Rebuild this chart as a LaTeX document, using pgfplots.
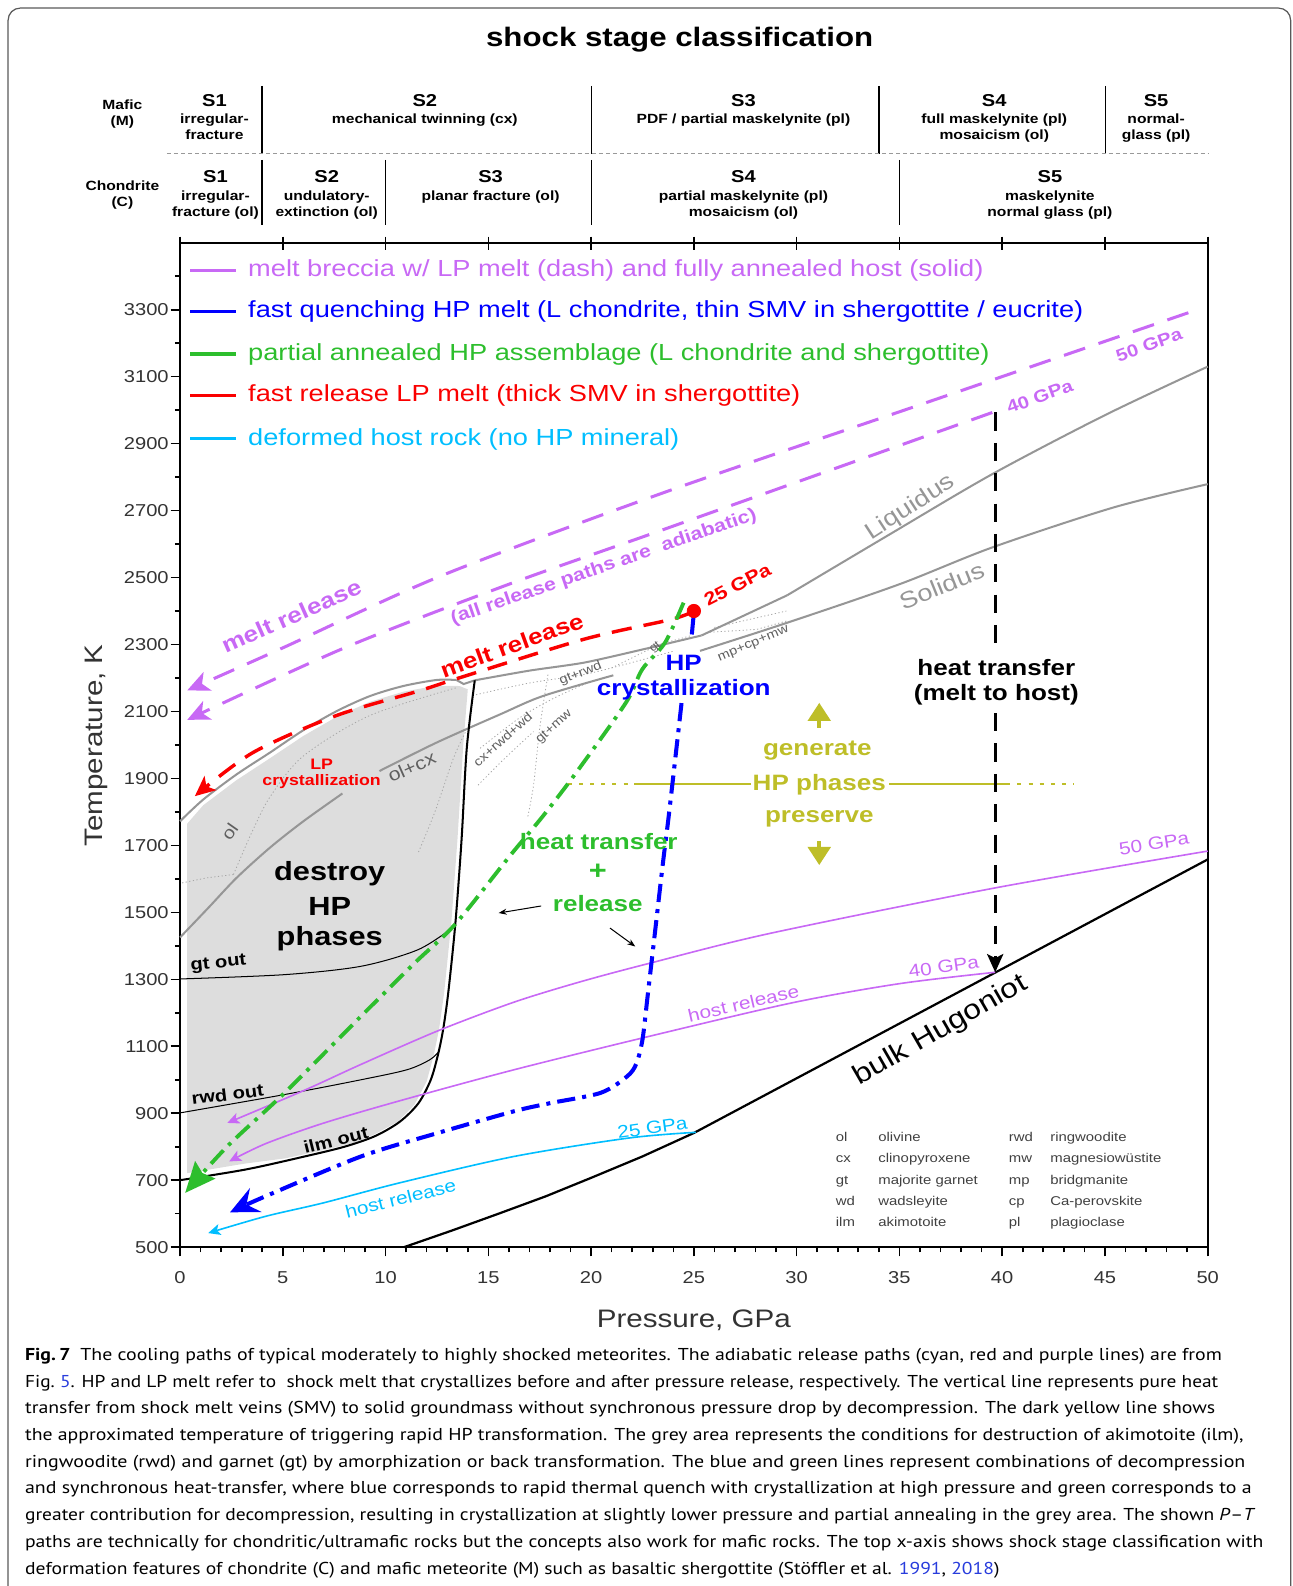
\documentclass[border=0pt]{standalone}
\usepackage{pgfplots}
\pgfplotsset{compat=1.18}
\usetikzlibrary{arrows.meta}
\usepackage{fontspec}
\setmainfont{Liberation Sans}
\newfontfamily\cf[FakeStretch=1.17]{Liberation Sans}
\newfontfamily\capff{PT Sans}

\definecolor{mpurple}{RGB}{200,105,245}
\definecolor{mblue}{RGB}{0,0,255}
\definecolor{mgreen}{RGB}{45,190,45}
\definecolor{mred}{RGB}{250,0,0}
\definecolor{mcyan}{RGB}{0,190,255}
\definecolor{molive}{RGB}{190,190,40}
\definecolor{lgrey}{RGB}{150,150,150}
\definecolor{fgrey}{RGB}{221,221,221}
\definecolor{tgrey}{RGB}{95,95,95}
\definecolor{linkblue}{RGB}{40,60,220}

\newcommand\fs[1]{\fontsize{#1}{#1}\selectfont}
\newcommand\capfont{\capff\fs{8.5}}

\tikzset{
  px/.style={x=0.5pt,y=-0.5pt,shift={(-89pt,616.5pt)}},
  phase/.style={lgrey, line width=1pt},
  dots/.style={lgrey!85, line width=0.4pt, dash pattern=on 0.6pt off 1.2pt},
  relarrow/.style={-{Stealth[length=11pt,width=10pt,inset=3pt]}},
  hostarrow/.style={-{Stealth[length=6pt,width=5.5pt,inset=1.5pt]}},
}

\begin{document}%
\begin{tikzpicture}
\useasboundingbox (-89pt,-167.5pt) rectangle (550pt,616.5pt);
\clip (-89pt,-167.5pt) rectangle (550pt,616.5pt);

\begin{axis}[
  scale only axis, width=508pt, height=496.5pt,
  xmin=0, xmax=50, ymin=500, ymax=3500,
  clip=false,
  axis line style={line width=1.1pt},
  tick pos=left, tick align=outside,
  xtick={0,5,...,50}, minor x tick num=4,
  ytick={500,700,...,3300}, minor ytick={600,800,...,3400},
  major tick length=4.6pt, minor tick length=2.6pt,
  tick style={black, line width=0.8pt},
  ticklabel style={font=\cf\fs{8.5}, text=black!80},
  /pgf/number format/assume math mode=true,
  /pgf/number format/1000 sep={},
  xticklabel style={yshift=-4pt},
  yticklabel style={xshift=2.5pt},
]

% region where HP phases are destroyed
\addplot[draw=none, fill=fgrey] coordinates {
  (0.35,721) (3.2,750) (5.1,765) (7,790) (8.5,812) (9.5,838) (10.6,875)
  (11.4,925) (12.0,995) (12.35,1075) (12.6,1150) (12.85,1260) (13.2,1470)
  (13.5,1720) (13.78,2000) (14.0,2166) (13.6,2176) (12.48,2177) (10.86,2159)
  (9.24,2129) (7.62,2084) (6.0,2027) (4.37,1960) (2.75,1895) (1.13,1820) (0.35,1765)} -- cycle;

% faint phase-field boundaries
\addplot[dots] coordinates {(0.1,1588) (1.3,1603) (2.6,1613)};
\addplot[dots, smooth] coordinates {(2.6,1613) (3.5,1740) (4.4,1847) (6,1967) (9.2,2087) (13.45,2171)};
\addplot[dots, smooth] coordinates {(11.6,1680) (12.4,1800) (13.3,1960) (13.9,2040)};
\addplot[dots, smooth] coordinates {(14.4,2150) (17,2185) (20,2215) (24,2280)};
\addplot[dots, smooth] coordinates {(14.6,1990) (16.5,2080) (18.2,2140) (20,2190)};
\addplot[dots, smooth] coordinates {(17.9,2210) (17.5,2050) (17.2,1880) (16.9,1780)};
\addplot[dots, smooth] coordinates {(14.5,1880) (15.8,1960) (17.2,2040)};
\addplot[dots] coordinates {(25.6,2336) (28.05,2345) (29.5,2370)};
\addplot[dots] coordinates {(26,2351) (29.5,2400)};
\addplot[dots] coordinates {(21,2230) (23.3,2300) (24.9,2327)};

% liquidus
\addplot[phase, smooth, tension=0.5] coordinates {(0,1772) (1.13,1837) (2.75,1912) (4.37,1977) (6.0,2044) (7.62,2101) (9.24,2146) (10.86,2176) (12.48,2194) (13.45,2194)};
\addplot[phase] coordinates {(13.45,2194) (13.8,2182) (14.34,2193)};
\addplot[phase, smooth, tension=0.4] coordinates {(14.34,2193) (17,2222) (19.67,2246) (22.7,2288) (25.37,2327)};
\addplot[phase] coordinates {(25.37,2327) (29.54,2447)};
\addplot[phase, smooth] coordinates {(29.54,2447) (34.5,2628) (39.52,2809) (45,2985) (50,3130)};
% solidus
\addplot[phase, smooth] coordinates {(0,1425) (1.4,1515) (2.75,1603) (4.37,1693) (6.0,1772) (7.9,1855)};
\addplot[phase, smooth] coordinates {(9.7,1922) (12.48,2007) (15.56,2091) (17.65,2146) (21.08,2208)};
\addplot[phase, smooth] coordinates {(25.3,2281) (29.54,2365) (35,2480) (39.52,2590) (45.4,2709) (50,2779)};

% amorphization limits
\addplot[black, line width=1pt, smooth, tension=0.5] coordinates {(0,700) (3.2,732) (6.0,770) (8.0,800) (9.5,832) (10.7,875) (11.6,930) (12.2,1000) (12.55,1075) (12.8,1150) (13.05,1260) (13.4,1470) (13.7,1720) (13.95,1990) (14.34,2193)};
\addplot[black, line width=0.5pt, smooth] coordinates {(0,1301) (5.1,1314) (8.81,1339) (11.6,1389) (13.37,1459)};
\addplot[black, line width=0.5pt, smooth] coordinates {(0,901) (5.1,956) (8.81,1000) (11.05,1030) (12.16,1060) (12.6,1085)};

% bulk Hugoniot
\addplot[black, line width=1.1pt] coordinates {(10.9,500) (13.2,549) (15.5,600) (17.8,652) (20,707) (22.5,771) (25,841) (50,1658)};

% host release paths
\addplot[mcyan, line width=0.8pt, smooth, hostarrow] coordinates {(25.1,843) (21.84,826) (16.26,771) (10.68,692) (6.96,632) (4.16,592) (1.37,542)};
\addplot[mpurple, line width=0.8pt, smooth, hostarrow] coordinates {(50,1683) (39.66,1573) (28.69,1437) (22.85,1348) (19.5,1293) (16.26,1232) (12.54,1146) (8.81,1046) (6.03,968) (2.3,871)};
\addplot[mpurple, line width=0.8pt, smooth, hostarrow] coordinates {(39.66,1321) (35,1287) (29.8,1230) (22.85,1130) (16.26,1030) (10.68,937) (6.96,870) (4.16,809) (2.39,756)};

% melt release paths
\addplot[mpurple, line width=1.5pt, dash pattern=on 11pt off 7pt, smooth, relarrow] coordinates {(49.06,3291) (36,3016) (23.55,2754) (12.7,2505) (5,2290) (0.35,2163)};
\addplot[mpurple, line width=1.5pt, dash pattern=on 11pt off 7pt, smooth, relarrow] coordinates {(39.52,2993) (23.55,2644) (16,2480) (8,2290) (0.35,2075)};
\addplot[mred, line width=1.7pt, dash pattern=on 10pt off 6pt, smooth, -{Stealth[length=10pt,width=9pt,inset=2.5pt]}] coordinates {(25,2400) (23.9,2375) (19.67,2316) (13.62,2201) (11.6,2161) (7.57,2087) (3.54,1977) (0.72,1847)};

% HP transformation temperature
\addplot[molive, line width=1pt, dash pattern=on 2pt off 3.5pt] coordinates {(18.87,1884) (22.1,1884)};
\addplot[molive, line width=1pt] coordinates {(22.1,1884) (27.8,1884)};
\addplot[molive, line width=1pt] coordinates {(34.5,1884) (40.2,1884)};
\addplot[molive, line width=1pt, dash pattern=on 2pt off 3.5pt] coordinates {(40.2,1884) (43.5,1884)};
\addplot[molive, line width=2.2pt, -{Triangle[length=9pt,width=11pt]}] coordinates {(31.1,2052) (31.1,2126)};
\addplot[molive, line width=2.2pt, -{Triangle[length=9pt,width=11pt]}] coordinates {(31.1,1712) (31.1,1641)};

% cooling paths of shock melt
\addplot[mgreen, line width=1.9pt, dash pattern=on 9pt off 3.5pt on 1.8pt off 3.5pt, smooth, -{Stealth[length=15pt,width=13pt,inset=2pt]}] coordinates {(24.5,2425) (23.6,2306) (22.49,2226) (21.69,2126) (19.27,1917) (17.65,1787) (16.04,1668) (13.38,1464) (11.42,1349) (8.81,1190) (5.09,961) (2.3,801) (0.25,662)};
\addplot[mblue, line width=2pt] coordinates {(25,2395) (24.9,2330)};
\addplot[mblue, line width=2pt, dash pattern=on 9pt off 3.5pt on 2pt off 3.5pt, smooth, -{Stealth[length=14pt,width=13pt,inset=5pt]}] coordinates {(24.4,2125) (23.8,1800) (23.5,1650) (23.07,1420) (22.75,1250) (22.5,1120) (22.2,1048) (21.75,1010) (20.47,961) (18,930) (16.26,906) (12.54,841) (8.81,771) (4.16,652) (2.43,604)};
\addplot[only marks, mark=*, mark size=3.3pt, mred] coordinates {(25,2400)};

% pure heat transfer
\addplot[black, line width=1.5pt, dash pattern=on 9pt off 6pt] coordinates {(39.66,2993) (39.66,2300)};
\addplot[black, line width=1.5pt, dash pattern=on 9pt off 6pt, -{Stealth[length=9pt,width=8pt,inset=2pt]}] coordinates {(39.66,2095) (39.66,1321)};

% pointers
\addplot[black, line width=0.5pt, -{Stealth[length=4pt,width=3pt]}] coordinates {(17.57,1519) (15.5,1498)};
\addplot[black, line width=0.5pt, -{Stealth[length=4pt,width=3pt]}] coordinates {(20.92,1453) (22.15,1398)};
\end{axis}

\begin{scope}[px]
% frame
\draw[line width=0.6pt, black!65, rounded corners=6pt] (8,8) rectangle (1276,1620);
% top axis ticks
\foreach \i in {0,...,10} \draw[line width=0.8pt] ({178+101.6*\i},234) -- ({178+101.6*\i},247);

% shock stage classification
\node[anchor=base, inner sep=0pt, font=\cf\fs{13.2}\bfseries] at (672,46) {shock stage classification};
\foreach \x in {259,585,869,1093} \draw[line width=0.7pt] (\x,85) -- (\x,152);
\foreach \x in {259,381,585,889} \draw[line width=0.7pt] (\x,158) -- (\x,222);
\draw[line width=0.6pt, black!40, dash pattern=on 2pt off 1.5pt] (165,152) -- (1195,152);
\tikzset{hs/.style={anchor=base, inner sep=0pt, font=\cf\fs{8.5}\bfseries},
         hd/.style={anchor=base, inner sep=0pt, font=\cf\fs{6.6}\bfseries}}
\node[hd] at (121,108.5) {Mafic};
\node[hd] at (121,124.5) {(M)};
\node[hs] at (212,105.4) {S1};
\node[hd] at (212,122.4) {irregular-};
\node[hd] at (212,138.4) {fracture};
\node[hs] at (420,105.4) {S2};
\node[hd] at (420,122.4) {mechanical twinning (cx)};
\node[hs] at (735,105.4) {S3};
\node[hd] at (735,122.4) {PDF / partial maskelynite (pl)};
\node[hs] at (983,105.4) {S4};
\node[hd] at (983,122.4) {full maskelynite (pl)};
\node[hd] at (983,138.4) {mosaicism (ol)};
\node[hs] at (1143,105.4) {S5};
\node[hd] at (1143,122.4) {normal-};
\node[hd] at (1143,138.4) {glass (pl)};
\node[hd] at (121,188.5) {Chondrite};
\node[hd] at (121,204.5) {(C)};
\node[hs] at (213,180.4) {S1};
\node[hd] at (213,198.4) {irregular-};
\node[hd] at (213,214.4) {fracture (ol)};
\node[hs] at (323,180.4) {S2};
\node[hd] at (323,198.4) {undulatory-};
\node[hd] at (323,214.4) {extinction (ol)};
\node[hs] at (485,180.4) {S3};
\node[hd] at (485,198.4) {planar fracture (ol)};
\node[hs] at (735,180.4) {S4};
\node[hd] at (735,198.4) {partial maskelynite (pl)};
\node[hd] at (735,214.4) {mosaicism (ol)};
\node[hs] at (1038,180.4) {S5};
\node[hd] at (1038,198.4) {maskelynite};
\node[hd] at (1038,214.4) {normal glass (pl)};

% axis titles
\node[rotate=90, font=\cf\fs{12.5}, text=black!80] at (95,737) {Temperature, K};
\node[font=\cf\fs{12.5}, text=black!80] at (686,1305) {Pressure, GPa};

% legend
\tikzset{lg/.style={anchor=base west, inner sep=0pt, font=\cf\fs{11.5}}}
\draw[mpurple, line width=1.5pt] (188,267) -- (233,267);
\node[lg, text=mpurple] at (245,273) {melt breccia w/ LP melt (dash) and fully annealed host (solid)};
\draw[mblue, line width=1.5pt] (188,308) -- (233,308);
\node[lg, text=mblue] at (245,314) {fast quenching HP melt (L chondrite, thin SMV in shergottite / eucrite)};
\draw[mgreen, line width=1.5pt] (188,350) -- (233,350);
\node[lg, text=mgreen] at (245,356) {partial annealed HP assemblage (L chondrite and shergottite)};
\draw[mred, line width=1.5pt] (188,391) -- (233,391);
\node[lg, text=mred] at (245,397) {fast release LP melt (thick SMV in shergottite)};
\draw[mcyan, line width=1.5pt] (188,434) -- (233,434);
\node[lg, text=mcyan] at (245,440) {deformed host rock (no HP mineral)};

% labels in the diagram
\tikzset{t/.style={inner sep=0pt}}
\node[t, rotate=24, text=mpurple, font=\cf\fs{11}\bfseries] at (288,609) {melt release};
\node[t, rotate=19, text=mpurple, font=\cf\fs{9}\bfseries] at (597,561) {(all release paths are\ \ adiabatic)};
\node[t, rotate=20, text=mpurple, font=\cf\fs{8.6}\bfseries] at (1136,341) {50 GPa};
\node[t, rotate=20, text=mpurple, font=\cf\fs{8.6}\bfseries] at (1028,392) {40 GPa};
\node[t, rotate=33, text=lgrey, font=\cf\fs{11.5}] at (900,502) {Liquidus};
\node[t, rotate=22, text=lgrey, font=\cf\fs{11.5}] at (931,579) {Solidus};
\node[t, rotate=27, text=mred, font=\cf\fs{9}\bfseries] at (729,578) {25 GPa};
\node[t, rotate=20, text=mred, font=\cf\fs{11}\bfseries] at (506,638) {melt release};
\node[t, text=mblue, font=\cf\fs{11}\bfseries] at (676,655) {HP};
\node[t, text=mblue, font=\cf\fs{11}\bfseries] at (676,682) {crystallization};
\node[t, rotate=40, text=tgrey, font=\cf\fs{5.5}] at (648,640) {gt};
\node[t, rotate=22, text=tgrey, font=\cf\fs{6.2}] at (574,666) {gt+rwd};
\node[t, rotate=23, text=tgrey, font=\cf\fs{6.2}] at (745,637) {mp+cp+mw};
\node[t, rotate=42, text=tgrey, font=\cf\fs{6.2}] at (497,731) {cx+rwd+wd};
\node[t, rotate=42, text=tgrey, font=\cf\fs{6.2}] at (548,719) {gt+mw};
\node[t, text=mred, font=\cf\fs{7.5}\bfseries] at (318,756) {LP};
\node[t, text=mred, font=\cf\fs{7.5}\bfseries] at (318,773) {crystallization};
\node[t, rotate=24, text=tgrey, font=\cf\fs{9}] at (407,758) {ol+cx};
\node[t, rotate=55, text=tgrey, font=\cf\fs{8.5}] at (227,822) {ol};
\node[t, font=\cf\fs{13}\bfseries] at (326,864) {destroy};
\node[t, font=\cf\fs{13}\bfseries] at (326,896) {HP};
\node[t, font=\cf\fs{13}\bfseries] at (326,928) {phases};
\node[t, rotate=6, font=\cf\fs{8.5}\bfseries] at (216,953) {gt out};
\node[t, rotate=7, font=\cf\fs{8.5}\bfseries] at (225,1082) {rwd out};
\node[t, rotate=14, font=\cf\fs{8.5}\bfseries] at (332,1127) {ilm out};
\node[t, text=mgreen, font=\cf\fs{11}\bfseries] at (592,832) {heat transfer};
\node[t, text=mgreen, font=\cf\fs{13}\bfseries] at (591,862) {+};
\node[t, text=mgreen, font=\cf\fs{11}\bfseries] at (591,893) {release};
\node[t, font=\cf\fs{11}\bfseries] at (985,660) {heat transfer};
\node[t, font=\cf\fs{11}\bfseries] at (985,687) {(melt to host)};
\node[t, text=molive, font=\cf\fs{11}\bfseries] at (808,742) {generate};
\node[t, text=molive, font=\cf\fs{11}\bfseries] at (810,776) {HP phases};
\node[t, text=molive, font=\cf\fs{11}\bfseries] at (810,810) {preserve};
\node[t, rotate=9, text=mpurple, font=\cf\fs{8.8}] at (1141,834) {50 GPa};
\node[t, rotate=8, text=mpurple, font=\cf\fs{8.8}] at (933,956) {40 GPa};
\node[t, rotate=13, text=mpurple, font=\cf\fs{8.8}] at (735,992) {host release};
\node[t, rotate=30, font=\cf\fs{13.5}] at (930,1019) {bulk Hugoniot};
\node[t, rotate=8, text=mcyan, font=\cf\fs{8.8}] at (645,1115) {25 GPa};
\node[t, rotate=14, text=mcyan, font=\cf\fs{8.8}] at (396,1185) {host release};

% abbreviations
\foreach \a/\b [count=\i] in {ol/olivine, cx/clinopyroxene, gt/majorite garnet, wd/wadsleyite, ilm/akimotoite} {
  \node[anchor=base west, inner sep=0pt, font=\cf\fs{6.3}, text=black!75] at (826,{1129+20.8*(\i-1)}) {\a};
  \node[anchor=base west, inner sep=0pt, font=\cf\fs{6.3}, text=black!75] at (868,{1129+20.8*(\i-1)}) {\b};
}
\foreach \a/\b [count=\i] in {rwd/ringwoodite, mw/magnesiowüstite, mp/bridgmanite, cp/Ca-perovskite, pl/plagioclase} {
  \node[anchor=base west, inner sep=0pt, font=\cf\fs{6.3}, text=black!75] at (997,{1129+20.8*(\i-1)}) {\a};
  \node[anchor=base west, inner sep=0pt, font=\cf\fs{6.3}, text=black!75] at (1038,{1129+20.8*(\i-1)}) {\b};
}

% caption, each line set to its own measure
\newcommand\capline[3]{\node[anchor=base west, inner sep=0pt] at (24.4,#1) {\resizebox{#2pt}{\height}{\capfont #3}};}
\capline{1345}{591.6}{\textbf{Fig.\,7}\enspace The cooling paths of typical moderately to highly shocked meteorites. The adiabatic release paths (cyan, red and purple lines) are from}
\capline{1371.4}{589.8}{Fig.~\textcolor{linkblue}{5}. HP and LP melt refer to\ \ shock melt that crystallizes before and after pressure release, respectively. The vertical line represents pure heat}
\capline{1397.8}{588.3}{transfer from shock melt veins (SMV) to solid groundmass without synchronous pressure drop by decompression. The dark yellow line shows}
\capline{1424.2}{602.3}{the approximated temperature of triggering rapid HP transformation. The grey area represents the conditions for destruction of akimotoite (ilm),}
\capline{1450.6}{603.2}{ringwoodite (rwd) and garnet (gt) by amorphization or back transformation. The blue and green lines represent combinations of decompression}
\capline{1477}{606.3}{and synchronous heat-transfer, where blue corresponds to rapid thermal quench with crystallization at high pressure and green corresponds to a}
\capline{1503.4}{608.1}{greater contribution for decompression, resulting in crystallization at slightly lower pressure and partial annealing in the grey area. The shown \textit{P}–\textit{T}}
\capline{1529.8}{612.1}{paths are technically for chondritic/ultramafic rocks but the concepts also work for mafic rocks. The top x-axis shows shock stage classification with}
\capline{1556.2}{481.7}{deformation features of chondrite (C) and mafic meteorite (M) such as basaltic shergottite (Stöffler et al. \textcolor{linkblue}{1991}, \textcolor{linkblue}{2018})}
\end{scope}
\end{tikzpicture}%
\end{document}
